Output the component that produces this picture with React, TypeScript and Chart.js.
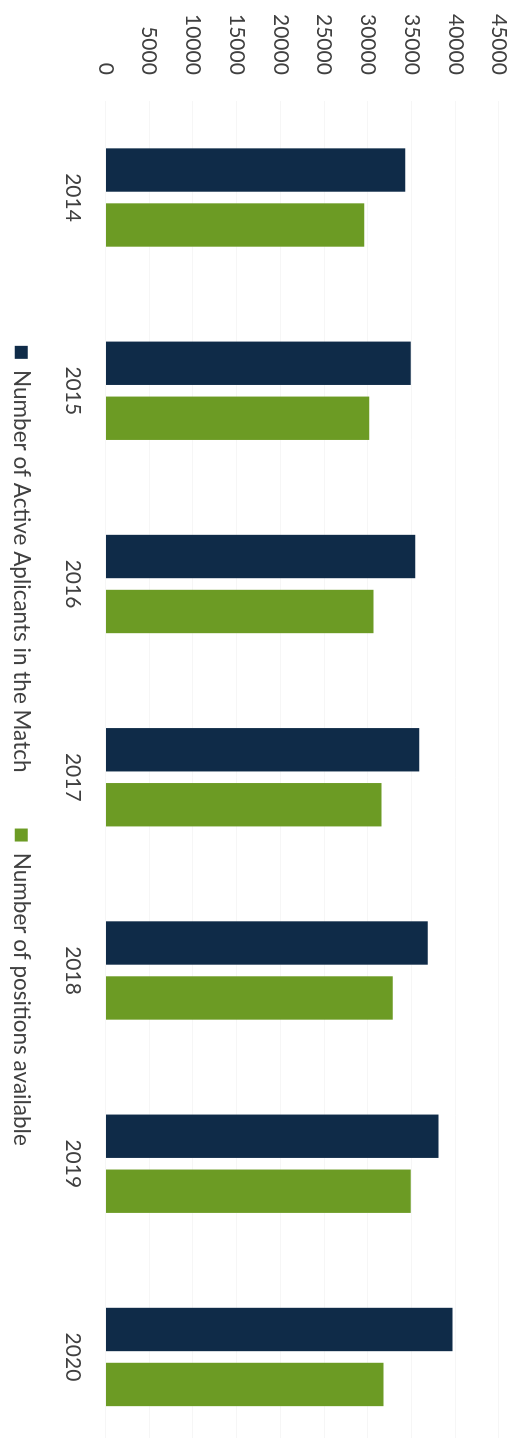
import React, { useEffect, useRef } from "react";
import { Chart, registerables } from "chart.js";

Chart.register(...registerables);

const years = ["2014", "2015", "2016", "2017", "2018", "2019", "2020"];
const applicants = [34270, 34920, 35410, 35870, 36860, 38080, 39680];
const positions = [29580, 30150, 30640, 31560, 32860, 34920, 31780];
const seriesNames = ["Number of Active Aplicants in the Match", "Number of positions available"];
const valueTicks = [0, 5000, 10000, 15000, 20000, 25000, 30000, 35000, 40000, 45000];

const PAGE_W = 523;
const PAGE_H = 1438;
const CANVAS_W = 1460; // unrotated width (becomes vertical)
const CANVAS_H = 523; // unrotated height (becomes horizontal)
const PAD_RIGHT = 6.4;
const CHART_LEFT = 100.9;
const CHART_BOTTOM = 417.5;
const LEGEND_FONT = 22.5;
const LEGEND_PAD = 10;
const LEGEND_TOP = CANVAS_H - (LEGEND_FONT + LEGEND_PAD + 10);
const LEGEND_SHIFT = 19;

const legendShift = {
  id: "legendShift",
  afterLayout(chart: any) {
    const lg = chart.legend;
    if (lg) {
      lg.left += LEGEND_SHIFT;
      lg.right += LEGEND_SHIFT;
    }
  },
};

export default function App() {
  const ref = useRef<HTMLCanvasElement | null>(null);

  useEffect(() => {
    const canvas = ref.current;
    if (!canvas) return;
    const font = "Lato";
    const chart = new Chart(canvas, {
      type: "bar",
      data: {
        labels: years,
        datasets: [
          {
            label: seriesNames[0],
            data: applicants,
            backgroundColor: "#0f2b48",
            borderWidth: 0,
            barPercentage: 0.789,
            categoryPercentage: 0.569,
          },
          {
            label: seriesNames[1],
            data: positions,
            backgroundColor: "#6c9b24",
            borderWidth: 0,
            barPercentage: 0.789,
            categoryPercentage: 0.569,
          },
        ],
      },
      plugins: [legendShift],
      options: {
        responsive: false,
        animation: false,
        devicePixelRatio: 1,
        layout: { padding: { left: 0, right: PAD_RIGHT, top: 24, bottom: 0 } },
        plugins: {
          tooltip: { enabled: false },
          legend: {
            position: "bottom",
            labels: {
              boxWidth: 13,
              boxHeight: 13,
              padding: LEGEND_PAD,
              color: "#404040",
              font: { family: font, size: LEGEND_FONT },
              generateLabels: (c: any) => {
                const items = Chart.defaults.plugins.legend.labels.generateLabels(c);
                items.forEach((it: any, i: number) => {
                  if (i === 0) it.text = it.text + "\u00a0".repeat(8);
                  it.lineWidth = 0;
                });
                return items;
              },
            },
          },
        },
        scales: {
          x: {
            grid: { display: false, drawTicks: false },
            border: { display: false },
            ticks: { color: "#404040", padding: 20, font: { family: font, size: 21 } },
            afterFit: (s: any) => {
              s.height = LEGEND_TOP - CHART_BOTTOM;
            },
          },
          y: {
            min: 0,
            max: 45000,
            afterBuildTicks: (s: any) => {
              s.ticks = valueTicks.map((v) => ({ value: v }));
            },
            grid: {
              color: "rgba(0,0,0,0.035)",
              drawTicks: true,
              tickLength: 26,
              tickColor: "rgba(0,0,0,0)",
            },
            border: { display: false },
            ticks: {
              color: "#404040",
              padding: 0,
              font: { family: font, size: 21 },
              callback: (v: any) => String(v),
            },
            afterFit: (s: any) => {
              s.width = CHART_LEFT;
            },
          },
        },
      },
    });
    return () => chart.destroy();
  }, []);

  return (
    <div
      style={{
        position: "fixed",
        left: 0,
        top: 0,
        width: PAGE_W,
        height: PAGE_H,
        overflow: "hidden",
        background: "#ffffff",
      }}
    >
      <div
        style={{
          position: "absolute",
          left: 0,
          top: 0,
          width: CANVAS_W,
          height: CANVAS_H,
          transformOrigin: "0 0",
          transform: `translateX(${PAGE_W}px) rotate(90deg)`,
        }}
      >
        <canvas
          ref={ref}
          width={CANVAS_W}
          height={CANVAS_H}
          style={{ width: CANVAS_W, height: CANVAS_H, display: "block" }}
        />
      </div>
    </div>
  );
}
